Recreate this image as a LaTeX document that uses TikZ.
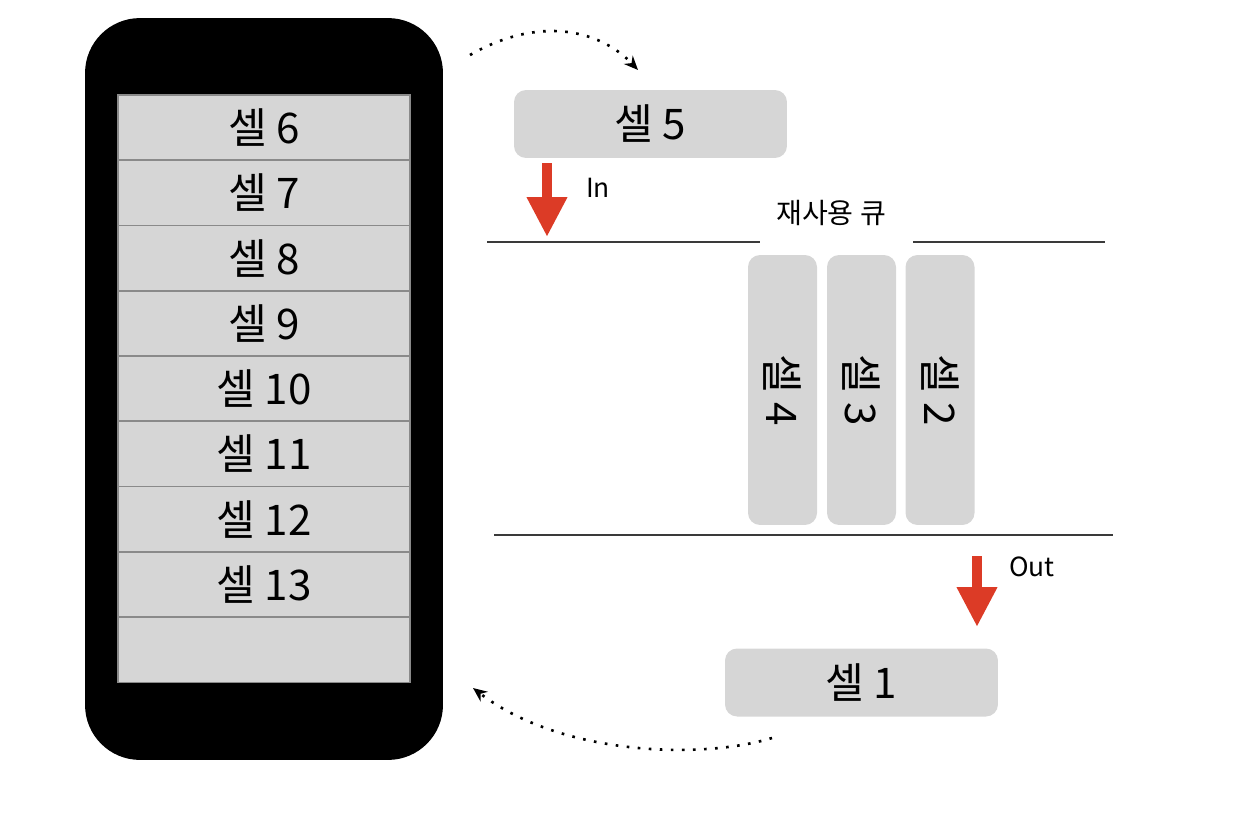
\documentclass[tikz,border=0pt]{standalone}
\usepackage{fontspec}
\setmainfont{Noto Sans CJK KR}
\usepackage{xcolor}
\usetikzlibrary{arrows.meta, positioning}
\definecolor{cellgray}{HTML}{D6D6D6}
\definecolor{linegray}{HTML}{8A8A8A}
\definecolor{arrowred}{HTML}{DC3B26}
\definecolor{bargray}{HTML}{3A3A3A}

\begin{document}
\begin{tikzpicture}[x=0.02cm, y=-0.02cm]
    \tikzstyle{row} = [rectangle, draw=linegray, line width=1pt, fill=cellgray, minimum width=5.84cm, minimum height=1.306cm, inner sep=0pt, outer sep=0pt, font=\fontsize{24}{28}\selectfont]
    \tikzstyle{block} = [rectangle, fill=cellgray, rounded corners=0.24cm, minimum width=5.46cm, minimum height=1.36cm, font=\fontsize{24}{28}\selectfont]
    \tikzstyle{slot} = [rectangle, fill=cellgray, rounded corners=0.24cm, rotate=-90, minimum width=5.4cm, minimum height=1.38cm, font=\fontsize{24}{28}\selectfont]
    \tikzstyle{bar} = [draw=bargray, line width=1.3pt]
    \tikzstyle{push} = [draw=arrowred, line width=0.2cm, -{Triangle[width=0.76cm, length=0.8cm]}]
    \tikzstyle{hop} = [draw, line width=1.5pt, dash pattern=on 1.5pt off 4.8pt, -{Stealth[length=0.28cm, width=0.24cm]}]
    \tikzstyle{tag} = [font=\fontsize{15}{18}\selectfont]

    \useasboundingbox (0,0) rectangle (1256,828);

    \node [fill=black, rounded corners=1.1cm, minimum width=7.16cm, minimum height=14.84cm] (phone) at (264,389) {};
    \node [row] (c6) at (264,127.5) {셀 6};
    \node [row, below=0pt of c6] (c7) {셀 7};
    \node [row, below=0pt of c7] (c8) {셀 8};
    \node [row, below=0pt of c8] (c9) {셀 9};
    \node [row, below=0pt of c9] (c10) {셀 10};
    \node [row, below=0pt of c10] (c11) {셀 11};
    \node [row, below=0pt of c11] (c12) {셀 12};
    \node [row, below=0pt of c12] (c13) {셀 13};
    \node [row, below=0pt of c13] (blank) {};

    \node [block] (c5) at (650.5,124) {셀 5};
    \node [block] (c1) at (861.5,682.5) {셀 1};

    \node [slot] (q4) at (782.5,390) {셀 4};
    \node [slot] (q3) at (861.5,390) {셀 3};
    \node [slot] (q2) at (940,390) {셀 2};

    \node [tag, font=\fontsize{16}{19}\selectfont] (qname) at (831,213) {재사용 큐};
    \node [tag] (inlabel) at (598,188) {In};
    \node [tag] (outlabel) at (1032,567) {Out};

    \draw [bar] (487,242) -- (760,242);
    \draw [bar] (913,242) -- (1105,242);
    \draw [bar] (494,535) -- (1113,535);

    \coordinate (in1) at (547,163);
    \coordinate (in2) at (547,237);
    \coordinate (out1) at (977,556);
    \coordinate (out2) at (977,627);
    \path [push] (in1) -- (in2);
    \path [push] (out1) -- (out2);

    \coordinate (leave) at (470,55);
    \coordinate (enter) at (638,70);
    \coordinate (back) at (772,738);
    \coordinate (home) at (473,688);
    \path [hop] (leave) .. controls (540,15) and (600,30) .. (enter);
    \path [hop] (back) .. controls (700,760) and (560,755) .. (home);
\end{tikzpicture}
\end{document}
